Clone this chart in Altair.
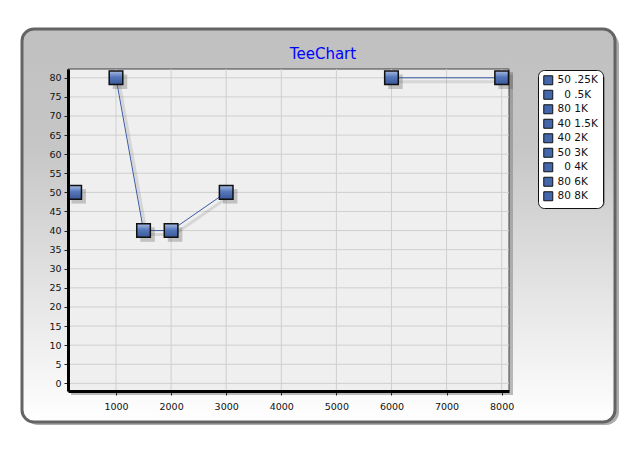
import altair as alt
import pandas as pd

# Series values (None = null point, gap in the line)
x_vals = [250, 500, 1000, 1500, 2000, 3000, 4000, 6000, 8000]
x_names = [".25K", ".5K", "1K", "1.5K", "2K", "3K", "4K", "6K", "8K"]
y_vals = [50, None, 80, 40, 40, 50, None, 80, 80]

# Axis ticks / grid positions
x_ticks = [1000, 2000, 3000, 4000, 5000, 6000, 7000, 8000]
y_ticks = [0, 5, 10, 15, 20, 25, 30, 35, 40, 45, 50, 55, 60, 65, 70, 75, 80]

PAD = "\u200b\u00a0\u00a0"  # one digit wide, kept from being trimmed
labels = [
    (str(v) if v is not None else PAD + "0") + "\u00a0" + n
    for v, n in zip(y_vals, x_names)
]

df = pd.DataFrame({"x": x_vals, "y": y_vals, "label": labels})
one = pd.DataFrame({"k": [0]})

W, H = 441, 322
FONT = "DejaVu Sans"

xs = alt.Scale(domain=[129, 8133], nice=False, zero=False)
ys = alt.Scale(domain=[-2.0, 82.3], nice=False, zero=False)
x_axis = alt.Axis(values=x_ticks, format="d", zindex=1, grid=False,
                  domainColor="#000000", domainWidth=3, tickColor="#202020",
                  tickSize=4, tickWidth=1, labelFont=FONT, labelFontSize=9.5,
                  labelColor="#111111", labelPadding=6)
y_axis = alt.Axis(values=y_ticks, format="d", zindex=1, grid=False,
                  domainColor="#000000", domainWidth=3, tickColor="#202020",
                  tickSize=4, tickWidth=1, labelFont=FONT, labelFontSize=9.5,
                  labelColor="#111111", labelPadding=3)
x_enc = alt.X("x:Q", scale=xs, title=None, axis=x_axis)
y_enc = alt.Y("y:Q", scale=ys, title=None, axis=y_axis)

# Outer rounded panel with shadow
panel_shadow = alt.Chart(one).mark_rect(
    cornerRadius=13, fill="#8a8a8a", opacity=0.7
).encode(x=alt.value(-43), x2=alt.value(551), y=alt.value(-37), y2=alt.value(356))

panel = alt.Chart(one).mark_rect(
    cornerRadius=12,
    fill=alt.Gradient(
        gradient="linear", x1=0, y1=0, x2=0, y2=1,
        stops=[alt.GradientStop(color="#c0c0c0", offset=0),
               alt.GradientStop(color="#c6c6c6", offset=0.3),
               alt.GradientStop(color="#ffffff", offset=1)],
    ),
    stroke="#646464", strokeWidth=3,
).encode(x=alt.value(-46), x2=alt.value(547), y=alt.value(-40), y2=alt.value(353))

# Plot area frame, background and shadow
plot_shadow = alt.Chart(one).mark_rect(fill="#7a7a7a", opacity=0.5).encode(
    x=alt.value(3), x2=alt.value(W + 4), y=alt.value(3), y2=alt.value(H + 4))
plot_bg = alt.Chart(one).mark_rect(fill="#efefef", stroke="#404040", strokeWidth=1).encode(
    x=alt.value(0), x2=alt.value(W), y=alt.value(0), y2=alt.value(H))

# Grid lines
grid_x = alt.Chart(pd.DataFrame({"x": x_ticks})).mark_rule(
    color="#cfcfcf", strokeWidth=1
).encode(x=x_enc)
grid_y = alt.Chart(pd.DataFrame({"y": y_ticks})).mark_rule(
    color="#cfcfcf", strokeWidth=1
).encode(y=y_enc)

# Line with gaps at null values, plus soft shadow
line_shadow = alt.Chart(df).mark_line(
    color="#808080", strokeWidth=3, opacity=0.22, xOffset=3, yOffset=4,
    invalid="break-paths-show-domains",
).encode(x=x_enc, y=y_enc, order="x:Q")
line = alt.Chart(df).mark_line(
    color="#3a5ca3", strokeWidth=1, invalid="break-paths-show-domains",
).encode(x=x_enc, y=y_enc, order="x:Q")

# Square markers with shadow
marker_shadow = alt.Chart(df).mark_point(
    shape="square", filled=True, size=210, color="#555555", opacity=0.3,
    xOffset=4, yOffset=4,
).encode(x=x_enc, y=y_enc)
markers = alt.Chart(df).mark_point(
    shape="square", filled=True, size=185, opacity=1,
    fill=alt.Gradient(
        gradient="linear", x1=0, y1=0, x2=0, y2=1,
        stops=[alt.GradientStop(color="#a9bde4", offset=0),
               alt.GradientStop(color="#5577bb", offset=0.45),
               alt.GradientStop(color="#3a5898", offset=1)],
    ),
    stroke="#101010", strokeWidth=1.5,
).encode(x=x_enc, y=y_enc)

# Legend (driven by the series labels)
legend_layer = alt.Chart(df).mark_point(
    shape="square", filled=True, opacity=0
).encode(
    x=x_enc, y=y_enc,
    color=alt.Color(
        "label:N", sort=None,
        scale=alt.Scale(domain=labels, range=["#4466aa"] * len(labels)),
        legend=alt.Legend(
            title=None, orient="none", legendX=470, legendY=1,
            fillColor="white", strokeColor="#101010", cornerRadius=6,
            padding=5, labelFont=FONT, labelFontSize=10.5, labelColor="#111111",
            symbolType="square", symbolSize=81, symbolStrokeColor="#101010",
            symbolStrokeWidth=1, symbolOpacity=1, rowPadding=0.5, labelOffset=4,
        ),
    ),
)
legend_shadow = alt.Chart(one).mark_rect(
    cornerRadius=6, fill="#6a6a6a", opacity=0.6
).encode(x=alt.value(473), x2=alt.value(537), y=alt.value(4), y2=alt.value(139))

# Title
title = alt.Chart(one).mark_text(
    fontSize=15, font=FONT, color="#0000ff", align="center", baseline="middle"
).encode(x=alt.value(255), y=alt.value(-15), text=alt.value("TeeChart"))

chart = alt.layer(
    panel_shadow, panel, plot_shadow, plot_bg, grid_x, grid_y,
    line_shadow, line, marker_shadow, markers, legend_layer, legend_shadow,
    title,
).properties(
    width=W, height=H,
    padding={"left": 68, "top": 69, "right": 134, "bottom": 64},
    autosize=alt.AutoSizeParams(type="none"),
).configure(
    background="white",
).configure_view(
    stroke=None,
)

chart.save("out.html", embed_options={"renderer": "svg", "actions": False})
